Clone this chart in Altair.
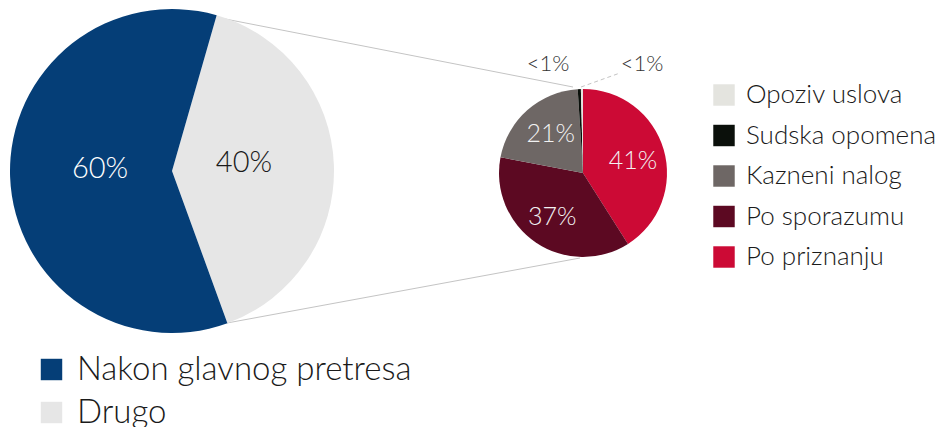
import math
import altair as alt
import pandas as pd

# ---- data ----
big_cats = ["Drugo", "Nakon glavnog pretresa"]
big_vals = [40, 60]
big_labels = ["40%", "60%"]
big_colors = ["#e6e6e6", "#053e77"]
big_text_colors = ["#1a1a1a", "#ffffff"]

small_cats = ["Po priznanju", "Po sporazumu", "Kazneni nalog", "Sudska opomena", "Opoziv uslova"]
small_vals = [41, 37, 21, 0.6, 0.4]
small_labels = ["41%", "37%", "21%", "<1%", "<1%"]
small_colors = ["#cc0a35", "#5c0922", "#6e6765", "#0b100b", "#e4e4df"]
small_text_colors = ["#f2f2f2", "#f2f2f2", "#f2f2f2", "#333333", "#333333"]

big_legend_order = ["Nakon glavnog pretresa", "Drugo"]
small_legend_order = ["Opoziv uslova", "Sudska opomena", "Kazneni nalog", "Po sporazumu", "Po priznanju"]

big_df = pd.DataFrame({"cat": big_cats, "v": big_vals, "lab": big_labels,
                       "tc": big_text_colors, "k": list(range(len(big_cats)))})
small_df = pd.DataFrame({"sub": small_cats, "w": small_vals, "lab": small_labels,
                         "tc": small_text_colors, "k": list(range(len(small_cats)))})

FONT = "Lato"
W, H = 933, 419

# ---- layout (chart pixel coordinates) ----
BCX, BCY, BR = 164, 163, 162
SCX, SCY, SR = 575, 165, 84
big_start = math.radians(16)

big_theta = alt.Scale(range=[big_start, big_start + 2 * math.pi])
small_theta = alt.Scale(range=[0, 2 * math.pi])

big_color = alt.Scale(domain=big_legend_order,
                      range=[big_colors[big_cats.index(c)] for c in big_legend_order])
small_color = alt.Scale(domain=small_legend_order,
                        range=[small_colors[small_cats.index(c)] for c in small_legend_order])

big_arc = alt.Chart(big_df).mark_arc(radius=BR, stroke=None).encode(
    theta=alt.Theta("v:Q", stack=True, scale=big_theta),
    order=alt.Order("k:Q"),
    color=alt.Color("cat:N", scale=big_color, legend=alt.Legend(
        orient="none", legendX=27, legendY=345, title=None, symbolType="square",
        symbolSize=460, symbolStrokeWidth=0, labelFont=FONT, labelFontSize=33,
        labelFontWeight=300, labelLimit=0,
        labelColor="#1a1a1a", rowPadding=9, labelOffset=9, padding=0)),
    x=alt.value(BCX), y=alt.value(BCY),
)

big_text = alt.Chart(big_df).mark_text(radius=72, font=FONT, fontSize=29, fontWeight=300,
                                       baseline="middle", align="center", dy=-5).encode(
    theta=alt.Theta("v:Q", stack=True, scale=big_theta),
    order=alt.Order("k:Q"),
    text="lab:N",
    color=alt.Color("tc:N", scale=None),
    x=alt.value(BCX), y=alt.value(BCY),
)

small_arc = alt.Chart(small_df).mark_arc(radius=SR, stroke=None).encode(
    theta=alt.Theta("w:Q", stack=True, scale=small_theta),
    order=alt.Order("k:Q"),
    color=alt.Color("sub:N", scale=small_color, legend=alt.Legend(
        orient="none", legendX=703, legendY=74, title=None, symbolType="square",
        symbolSize=460, symbolStrokeWidth=0, labelFont=FONT, labelFontSize=26,
        labelFontWeight=300, labelLimit=0,
        labelColor="#1a1a1a", rowPadding=14.5, labelOffset=9, padding=0)),
    x=alt.value(SCX), y=alt.value(SCY),
)

small_text = alt.Chart(small_df).transform_filter("datum.w >= 1").mark_text(
    radius=52, font=FONT, fontSize=25, fontWeight=300, baseline="middle", align="center",
    dy=2).encode(
    theta=alt.Theta("w:Q", stack=True, scale=small_theta),
    order=alt.Order("k:Q"),
    text="lab:N",
    color=alt.Color("tc:N", scale=None),
    x=alt.value(SCX), y=alt.value(SCY),
)

one = pd.DataFrame({"a": [0]})

def seg(x1, y1, x2, y2, dash=None):
    kw = dict(color="#c4c4c4", strokeWidth=1)
    if dash:
        kw["strokeDash"] = dash
    return alt.Chart(one).mark_rule(**kw).encode(
        x=alt.value(x1), y=alt.value(y1), x2=alt.value(x2), y2=alt.value(y2))

line_top = seg(207, 9, 565, 79)
line_bot = seg(219, 315, 572, 250)
leader = seg(573, 79, 612, 65, dash=[4, 3])

tiny = small_df[small_df["w"] < 1].reset_index(drop=True)
tiny_lab1 = alt.Chart(tiny.iloc[[0]]).mark_text(font=FONT, fontSize=22, fontWeight=300,
                                                color="#333333").encode(
    text="lab:N", x=alt.value(540), y=alt.value(56))
tiny_lab2 = alt.Chart(tiny.iloc[[1]]).mark_text(font=FONT, fontSize=22, fontWeight=300,
                                                color="#333333").encode(
    text="lab:N", x=alt.value(634), y=alt.value(56))

chart = alt.layer(
    line_top, line_bot, leader,
    big_arc, big_text, small_arc, small_text, tiny_lab1, tiny_lab2,
).resolve_scale(theta="independent", color="independent").properties(
    width=W, height=H, autosize=alt.AutoSizeParams(type="none"), padding=0,
    background="white",
).configure_view(stroke=None, strokeWidth=0)

chart.save("out.html", embed_options={"renderer": "svg", "actions": False})
